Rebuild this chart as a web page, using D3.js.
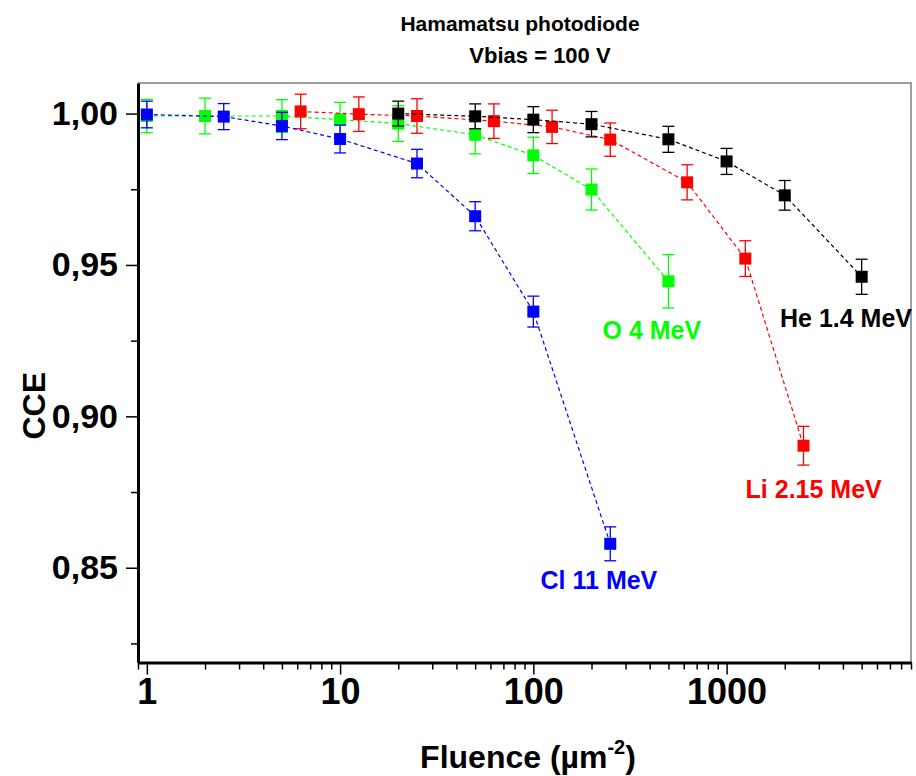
<!DOCTYPE html>
<html>
<head>
<meta charset="utf-8">
<script src="https://cdn.jsdelivr.net/npm/d3@7"></script>
<style>
  html, body { margin: 0; padding: 0; background: #fff; }
  svg { display: block; font-family: "Liberation Sans", Arial, sans-serif; }
</style>
</head>
<body>
<svg id="chart" width="916" height="776"></svg>
<script>
// ---- data ----
const titleLines = ["Hamamatsu photodiode", "Vbias = 100 V"];
const xTickValues = [1, 10, 100, 1000];
const yTickValues = [0.85, 0.90, 0.95, 1.00];
const yMinorTickValues = [0.825, 0.875, 0.925, 0.975];

const heX   = [20, 50, 100, 200, 500, 1000, 2000, 5000];
const heY   = [1.0000, 0.9991, 0.9980, 0.9965, 0.9915, 0.9842, 0.9730, 0.9461];
const heErr = [0.0041, 0.0041, 0.0043, 0.0042, 0.0043, 0.0043, 0.0049, 0.0058];

const liX   = [6.25, 12.5, 25, 62.5, 125, 250, 625, 1250, 2500];
const liY   = [1.0007, 0.9998, 0.9992, 0.9975, 0.9956, 0.9914, 0.9773, 0.9521, 0.8903];
const liErr = [0.0057, 0.0057, 0.0057, 0.0057, 0.0055, 0.0055, 0.0058, 0.0059, 0.0064];

const oX    = [1, 2, 5, 10, 20, 50, 100, 200, 500];
const oY    = [0.9992, 0.9992, 0.9992, 0.9980, 0.9967, 0.9930, 0.9862, 0.9749, 0.9446];
const oErr  = [0.0055, 0.0059, 0.0054, 0.0057, 0.0059, 0.0063, 0.0060, 0.0068, 0.0088];

const clX   = [1, 2.5, 5, 10, 25, 50, 100, 250];
const clY   = [0.9997, 0.9990, 0.9959, 0.9916, 0.9835, 0.9661, 0.9346, 0.8579];
const clErr = [0.0044, 0.0043, 0.0045, 0.0046, 0.0047, 0.0048, 0.0051, 0.0056];

const seriesNames  = ["O 4 MeV", "Li 2.15 MeV", "He 1.4 MeV", "Cl 11 MeV"];
const seriesColors = ["#00ff00", "#ff0000", "#000000", "#0000ff"];
// label anchors in data coordinates (fluence, CCE)
const labelX = [228, 1254, 1890, 109];
const labelY = [0.9255, 0.873, 0.9295, 0.843];

const series = [
  {name: seriesNames[0], color: seriesColors[0], x: oX,  y: oY,  e: oErr,  lx: labelX[0], ly: labelY[0]},
  {name: seriesNames[1], color: seriesColors[1], x: liX, y: liY, e: liErr, lx: labelX[1], ly: labelY[1]},
  {name: seriesNames[2], color: seriesColors[2], x: heX, y: heY, e: heErr, lx: labelX[2], ly: labelY[2]},
  {name: seriesNames[3], color: seriesColors[3], x: clX, y: clY, e: clErr, lx: labelX[3], ly: labelY[3]}
];

// ---- layout ----
const L = 138, R = 911, T = 83, B = 662.5;
const svg = d3.select("#chart");

const x = d3.scaleLog().domain([0.9, 9000]).range([L, R]);
const y = d3.scaleLinear().domain([0.8187, 1.0101]).range([B, T]);

// frame (top/right)
svg.append("path")
  .attr("d", `M${L},${T}H${R}V${B}`)
  .attr("fill", "none").attr("stroke", "#808080").attr("stroke-width", 1.5);

// minor ticks
const xMinor = x.ticks().filter(v => !xTickValues.includes(v));
svg.append("g").attr("transform", `translate(0,${B})`)
  .call(d3.axisBottom(x).tickValues(xMinor).tickSize(7).tickSizeOuter(0).tickFormat(""))
  .call(g => g.select(".domain").remove())
  .call(g => g.selectAll("line").attr("stroke-width", 1.5));
svg.append("g").attr("transform", `translate(${L},0)`)
  .call(d3.axisLeft(y).tickValues(yMinorTickValues).tickSize(7).tickSizeOuter(0).tickFormat(""))
  .call(g => g.select(".domain").remove())
  .call(g => g.selectAll("line").attr("stroke-width", 1.5));

// major axes
const xAxis = svg.append("g").attr("transform", `translate(0,${B})`)
  .call(d3.axisBottom(x).tickValues(xTickValues).tickSize(12).tickSizeOuter(0)
    .tickPadding(4).tickFormat(d3.format("d")));
xAxis.select(".domain").attr("stroke-width", 3);
xAxis.selectAll("line").attr("stroke-width", 1.5);
xAxis.selectAll("text").attr("font-size", 36).attr("font-weight", "bold").attr("fill", "#000");

const yAxis = svg.append("g").attr("transform", `translate(${L},0)`)
  .call(d3.axisLeft(y).tickValues(yTickValues).tickSize(12).tickSizeOuter(0)
    .tickPadding(8).tickFormat(d => d3.format(".2f")(d).replace(".", ",")));
yAxis.select(".domain").attr("stroke-width", 3);
yAxis.selectAll("line").attr("stroke-width", 1.5);
yAxis.selectAll("text").attr("font-size", 34).attr("font-weight", "bold").attr("fill", "#000");

// axis titles
const xt = svg.append("text").attr("x", 528).attr("y", 768)
  .attr("text-anchor", "middle").attr("font-size", 32).attr("font-weight", "bold");
xt.append("tspan").text("Fluence (\u00b5m");
xt.append("tspan").attr("font-size", 20).attr("dy", -14).text("-2");
xt.append("tspan").attr("dy", 14).text(")");

svg.append("text")
  .attr("transform", `translate(45,${(T + B) / 2 + 33}) rotate(-90)`)
  .attr("text-anchor", "middle").attr("font-size", 32).attr("font-weight", "bold")
  .text("CCE");

// title
svg.append("text").attr("x", 520).attr("y", 31).attr("text-anchor", "middle")
  .attr("font-size", 21).attr("font-weight", "bold").text(titleLines[0]);
svg.append("text").attr("x", 540).attr("y", 63).attr("text-anchor", "middle")
  .attr("font-size", 22).attr("font-weight", "bold").text(titleLines[1]);

// series
const line = d3.line().x(d => x(d[0])).y(d => y(d[1]));
const ms = 12, cap = 6;
series.forEach(s => {
  const pts = s.x.map((v, i) => [v, s.y[i], s.e[i]]);
  const g = svg.append("g");
  g.append("path").datum(pts).attr("d", line)
    .attr("fill", "none").attr("stroke", s.color).attr("stroke-width", 1.2)
    .attr("stroke-dasharray", "4,3");
  const eb = g.selectAll(".eb").data(pts).enter().append("g");
  eb.append("line").attr("x1", d => x(d[0])).attr("x2", d => x(d[0]))
    .attr("y1", d => y(d[1] + d[2])).attr("y2", d => y(d[1] - d[2]));
  eb.append("line").attr("x1", d => x(d[0]) - cap).attr("x2", d => x(d[0]) + cap)
    .attr("y1", d => y(d[1] + d[2])).attr("y2", d => y(d[1] + d[2]));
  eb.append("line").attr("x1", d => x(d[0]) - cap).attr("x2", d => x(d[0]) + cap)
    .attr("y1", d => y(d[1] - d[2])).attr("y2", d => y(d[1] - d[2]));
  eb.selectAll("line").attr("stroke", s.color).attr("stroke-width", 1.3);
  g.selectAll("rect").data(pts).enter().append("rect")
    .attr("x", d => x(d[0]) - ms / 2).attr("y", d => y(d[1]) - ms / 2)
    .attr("width", ms).attr("height", ms).attr("fill", s.color);
  svg.append("text").attr("x", x(s.lx)).attr("y", y(s.ly))
    .attr("font-size", 25).attr("font-weight", "bold").attr("fill", s.color)
    .text(s.name);
});
</script>
</body>
</html>
